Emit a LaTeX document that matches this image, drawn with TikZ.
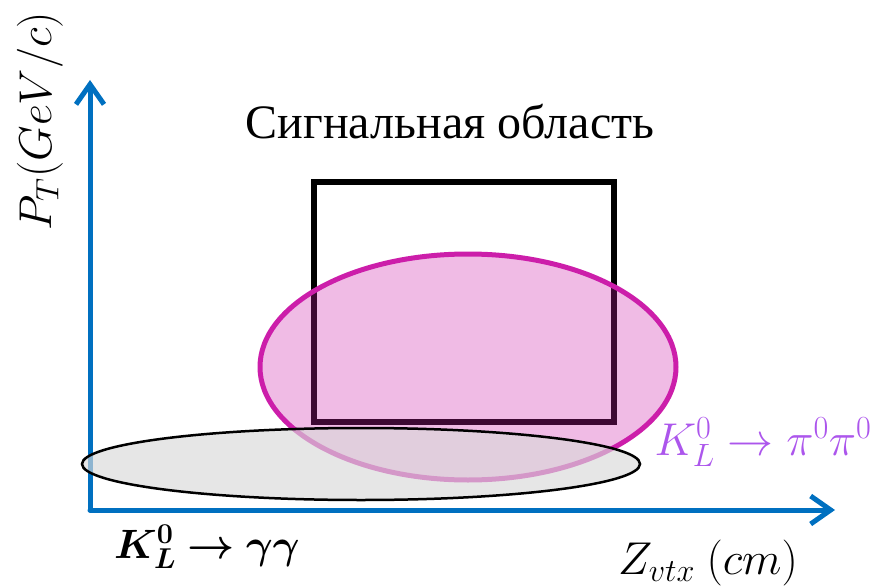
\RequirePackage{fix-cm}
\documentclass[tikz,border=0pt]{standalone}
\usepackage{fontspec}
\usepackage{bm}
\setmainfont{Liberation Serif}
\usetikzlibrary{arrows.meta}
\definecolor{axisblue}{RGB}{0,112,192}
\definecolor{sigmag}{RGB}{204,30,170}
\definecolor{klpurple}{RGB}{172,86,236}
\definecolor{bggray}{RGB}{217,217,217}
\tikzset{
  axisline/.style={draw=axisblue,line width=5pt,line cap=round,-{Straight Barb[length=20pt,width=28pt,line width=5pt]}},
  sigbox/.style={draw=black,line width=6pt},
  pinkell/.style={draw=sigmag,line width=5pt,fill=sigmag,fill opacity=0.3,draw opacity=1},
  grayell/.style={draw=black,line width=2.5pt,fill=bggray,fill opacity=0.65,draw opacity=1},
  lbl/.style={inner sep=0pt,font=\fontsize{46}{52}\selectfont},
  ttl/.style={inner sep=0pt,font=\fontsize{48}{54}\selectfont}
}
\begin{document}
\begin{tikzpicture}[x=1pt,y=-1pt]
\path[use as bounding box] (0,0) rectangle (881,586);
% axes
\coordinate (O) at (90,510);
\coordinate (ytip) at (90,80);
\coordinate (xtip) at (835,510);
\draw[axisline] (O) -- (ytip);
\draw[axisline] (O) -- (xtip);
% signal region box
\node[sigbox,minimum width=300pt,minimum height=240pt,inner sep=0pt] (box) at (464,302) {};
% pi0pi0 ellipse
\path[pinkell] (468,367) ellipse [x radius=208pt,y radius=113pt];
\coordinate (pinkc) at (468,367);
% gamma gamma ellipse
\path[grayell] (361,464) ellipse [x radius=279pt,y radius=36pt];
\coordinate (grayc) at (361,464);
% labels
\node[ttl] (title) at (450,122) {Сигнальная область};
\node[lbl,rotate=90] (ylab) at (40,121) {$P_T(GeV/c)$};
\node[lbl] (xlab) at (708,563) {$Z_{vtx}\ (cm)$};
\node[lbl,text=klpurple] (pipi) at (763,442) {$K_L^0\rightarrow\pi^0\pi^0$};
\node[lbl,font=\fontsize{41}{47}\selectfont] (gg) at (207,547) {$\bm{K_L^0\rightarrow\gamma\gamma}$};
\end{tikzpicture}
\end{document}
